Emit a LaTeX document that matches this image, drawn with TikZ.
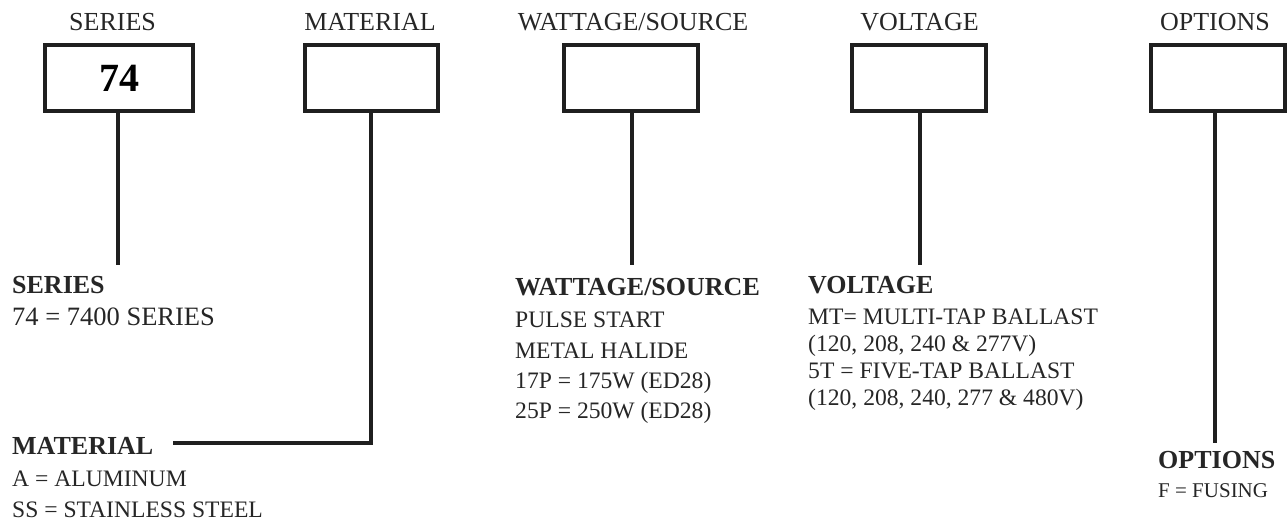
\documentclass[tikz,border=0pt]{standalone}
\usepackage{fontspec}
\setmainfont{Liberation Serif}
\begin{document}
\begin{tikzpicture}[x=1pt,y=-1pt,
  codebox/.style={draw=black!88, line width=4pt, inner sep=0pt, minimum height=66pt},
  conn/.style={draw=black!88, line width=4pt},
  title/.style={anchor=base, inner sep=0pt, font=\fontsize{26}{30}\selectfont, text=black!85},
  head/.style={anchor=base west, inner sep=0pt, font=\fontsize{26}{30}\selectfont\bfseries, text=black!85},
  body/.style={anchor=base west, inner sep=0pt, font=\fontsize{23.6}{28}\selectfont, text=black!85},
  bodylg/.style={anchor=base west, inner sep=0pt, font=\fontsize{26.5}{30}\selectfont, text=black!85},
  bodysm/.style={anchor=base west, inner sep=0pt, font=\fontsize{21}{25}\selectfont, text=black!85}]
\useasboundingbox (0,0) rectangle (1287,525);

% titles
\node[title] (t1) at (112.5,30) {SERIES};
\node[title] (t2) at (370,30) {MATERIAL};
\node[title] (t3) at (633,30) {WATTAGE/SOURCE};
\node[title] (t4) at (919.5,30) {VOLTAGE};
\node[title] (t5) at (1215,30) {OPTIONS};

% boxes
\node[codebox, minimum width=148pt] (b1) at (119,78) {\fontsize{40}{44}\selectfont\bfseries 74};
\node[codebox, minimum width=133pt] (b2) at (371.5,78) {};
\node[codebox, minimum width=134pt] (b3) at (631,78) {};
\node[codebox, minimum width=134pt] (b4) at (919,78) {};
\node[codebox, minimum width=134pt] (b5) at (1218,78) {};

% connector ends
\coordinate (e1) at (118,265);
\coordinate (e2c) at (371,443);
\coordinate (e2) at (173,443);
\coordinate (e3) at (632,265);
\coordinate (e4) at (920,265);
\coordinate (e5) at (1215,443);

\draw[conn] (e1 |- b1.south) -- (e1);
\draw[conn] (e2c |- b2.south) -- (e2c) -- (e2);
\draw[conn] (e3 |- b3.south) -- (e3);
\draw[conn] (e4 |- b4.south) -- (e4);
\draw[conn] (e5 |- b5.south) -- (e5);

% series
\node[head] (s1) at (12,293) {SERIES};
\node[bodylg] (s2) at (12,325) {74 = 7400 SERIES};

% material
\node[head] (m1) at (12,454) {MATERIAL};
\node[body] (m2) at (12,486) {A = ALUMINUM};
\node[body] (m3) at (12,517) {SS = STAINLESS STEEL};

% wattage
\node[head] (w1) at (515,295) {WATTAGE/SOURCE};
\node[body] (w2) at (515,327) {PULSE START};
\node[body] (w3) at (515,358) {METAL HALIDE};
\node[body] (w4) at (515,388) {17P = 175W (ED28)};
\node[body] (w5) at (515,418) {25P = 250W (ED28)};

% voltage
\node[head] (v1) at (808,293) {VOLTAGE};
\node[body] (v2) at (808,324) {MT= MULTI-TAP BALLAST};
\node[body] (v3) at (808,351) {(120, 208, 240 \& 277V)};
\node[body] (v4) at (808,378) {5T = FIVE-TAP BALLAST};
\node[body] (v5) at (808,405) {(120, 208, 240, 277 \& 480V)};

% options
\node[head] (o1) at (1158,468) {OPTIONS};
\node[bodysm] (o2) at (1158,497) {F = FUSING};
\end{tikzpicture}
\end{document}
